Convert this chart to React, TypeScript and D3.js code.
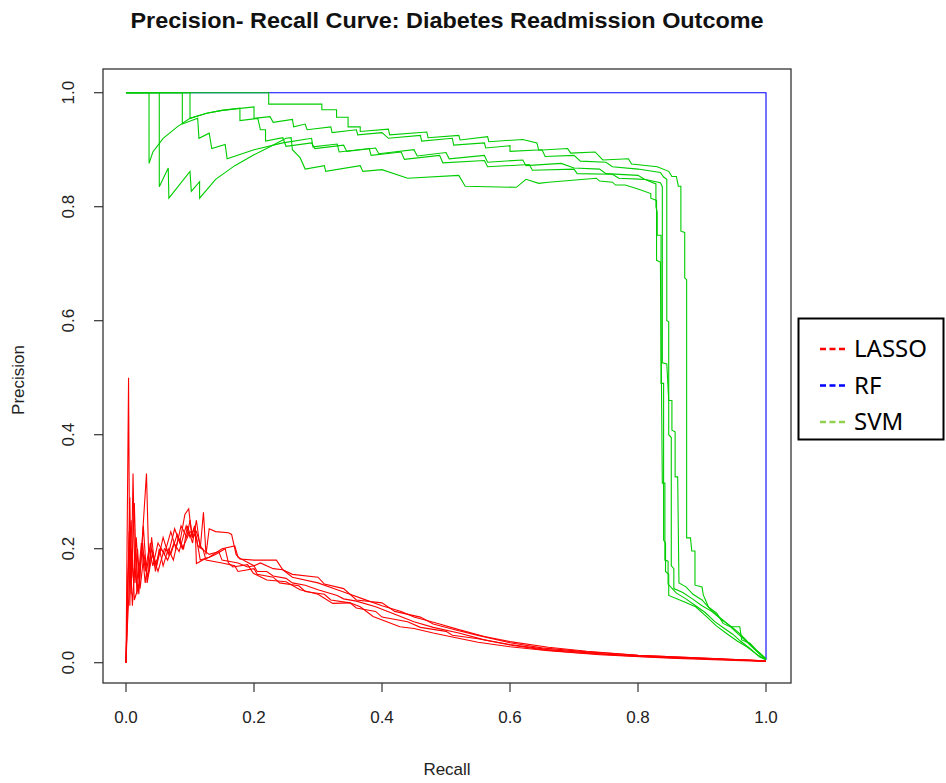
import { useEffect } from 'react'
import * as d3 from 'd3'

// precision-recall points [recall, precision]
const LASSO_1 = [
  [0, 0], [0.004, 0.5], [0.006, 0.1], [0.008, 0.2], [0.012, 0.14], [0.016, 0.22], [0.02, 0.15], [0.026, 0.21],
  [0.03, 0.16], [0.036, 0.2], [0.042, 0.17], [0.05, 0.21], [0.06, 0.19], [0.07, 0.23], [0.078, 0.2], [0.086, 0.24],
  [0.095, 0.22], [0.1, 0.25], [0.104, 0.22], [0.11, 0.23], [0.118, 0.2], [0.13, 0.19], [0.145, 0.195], [0.15, 0.18],
  [0.175, 0.175], [0.19, 0.168], [0.2, 0.17], [0.205, 0.16], [0.22, 0.16], [0.23, 0.152], [0.25, 0.148], [0.26, 0.14],
  [0.28, 0.136], [0.3, 0.128], [0.33, 0.118], [0.34, 0.112], [0.36, 0.108], [0.39, 0.098], [0.42, 0.085], [0.45, 0.072],
  [0.48, 0.062], [0.52, 0.052], [0.56, 0.04], [0.6, 0.031], [0.65, 0.023], [0.7, 0.018], [0.8, 0.011], [0.9, 0.007], [1, 0.003],
]
const LASSO_2 = [
  [0, 0], [0.002, 0.09], [0.006, 0.29], [0.008, 0.12], [0.011, 0.332], [0.014, 0.14], [0.018, 0.2], [0.022, 0.13],
  [0.028, 0.19], [0.034, 0.15], [0.04, 0.2], [0.048, 0.17], [0.058, 0.22], [0.066, 0.19], [0.076, 0.235], [0.084, 0.21],
  [0.092, 0.26], [0.098, 0.27], [0.103, 0.22], [0.107, 0.24], [0.112, 0.205], [0.12, 0.2], [0.125, 0.18], [0.15, 0.175],
  [0.17, 0.17], [0.175, 0.16], [0.2, 0.165], [0.205, 0.155], [0.23, 0.15], [0.24, 0.14], [0.27, 0.135], [0.28, 0.125],
  [0.31, 0.12], [0.32, 0.11], [0.35, 0.105], [0.36, 0.096], [0.39, 0.09], [0.4, 0.08], [0.44, 0.072], [0.46, 0.062],
  [0.5, 0.055], [0.51, 0.048], [0.55, 0.042], [0.6, 0.032], [0.66, 0.023], [0.75, 0.015], [0.85, 0.009], [1, 0.003],
]
const LASSO_3 = [
  [0, 0], [0.003, 0.15], [0.008, 0.25], [0.013, 0.11], [0.021, 0.139], [0.032, 0.332], [0.036, 0.16], [0.04, 0.22],
  [0.046, 0.16], [0.052, 0.2], [0.058, 0.17], [0.066, 0.2], [0.074, 0.18], [0.082, 0.22], [0.09, 0.2], [0.096, 0.24],
  [0.104, 0.21], [0.11, 0.25], [0.116, 0.2], [0.121, 0.264], [0.125, 0.19], [0.13, 0.235], [0.14, 0.23], [0.16, 0.228],
  [0.165, 0.225], [0.172, 0.19], [0.178, 0.182], [0.2, 0.18], [0.235, 0.18], [0.245, 0.163], [0.26, 0.155], [0.3, 0.15],
  [0.31, 0.138], [0.34, 0.13], [0.36, 0.11], [0.4, 0.105], [0.42, 0.09], [0.46, 0.08], [0.48, 0.068], [0.52, 0.056],
  [0.55, 0.048], [0.6, 0.035], [0.65, 0.026], [0.72, 0.019], [0.8, 0.013], [0.9, 0.008], [1, 0.003],
]
const LASSO_4 = [
  [0, 0], [0.005, 0.23], [0.009, 0.15], [0.013, 0.28], [0.017, 0.12], [0.024, 0.21], [0.03, 0.14], [0.038, 0.21],
  [0.045, 0.17], [0.055, 0.2], [0.065, 0.18], [0.075, 0.21], [0.083, 0.195], [0.094, 0.24], [0.1, 0.22], [0.108, 0.24],
  [0.11, 0.174], [0.12, 0.18], [0.14, 0.19], [0.155, 0.2], [0.16, 0.175], [0.167, 0.168], [0.19, 0.172], [0.199, 0.157],
  [0.22, 0.145], [0.25, 0.142], [0.272, 0.128], [0.3, 0.12], [0.323, 0.104], [0.35, 0.105], [0.366, 0.098], [0.386, 0.081],
  [0.428, 0.063], [0.45, 0.06], [0.48, 0.052], [0.506, 0.046], [0.55, 0.036], [0.6, 0.028], [0.66, 0.021], [0.74, 0.014],
  [0.85, 0.008], [1, 0.002],
]
const LASSO_5 = [
  [0, 0], [0.002, 0.06], [0.007, 0.18], [0.01, 0.1], [0.015, 0.2], [0.02, 0.12], [0.027, 0.24], [0.033, 0.14],
  [0.041, 0.19], [0.05, 0.16], [0.06, 0.2], [0.07, 0.19], [0.08, 0.225], [0.088, 0.2], [0.1, 0.23], [0.11, 0.22],
  [0.116, 0.18], [0.13, 0.185], [0.15, 0.2], [0.17, 0.205], [0.175, 0.185], [0.2, 0.17], [0.21, 0.175], [0.23, 0.165],
  [0.245, 0.163], [0.26, 0.15], [0.3, 0.14], [0.33, 0.128], [0.35, 0.12], [0.37, 0.112], [0.4, 0.1], [0.43, 0.09],
  [0.45, 0.08], [0.49, 0.068], [0.52, 0.058], [0.56, 0.046], [0.6, 0.037], [0.66, 0.027], [0.72, 0.02], [0.8, 0.013],
  [0.9, 0.008], [1, 0.003],
]

const RF_1 = [[0, 1], [1, 1], [1, 0.005]]

const SVM_1 = [
  [0, 1], [0.223, 1], [0.223, 0.98], [0.306, 0.98], [0.306, 0.97], [0.329, 0.97], [0.329, 0.957], [0.347, 0.957],
  [0.347, 0.94], [0.366, 0.94], [0.366, 0.932], [0.41, 0.936], [0.412, 0.926], [0.47, 0.931], [0.472, 0.921],
  [0.52, 0.925], [0.522, 0.917], [0.565, 0.923], [0.567, 0.914], [0.62, 0.918], [0.642, 0.912], [0.645, 0.899],
  [0.69, 0.902], [0.695, 0.894], [0.733, 0.896], [0.745, 0.882], [0.785, 0.884], [0.79, 0.875], [0.83, 0.87],
  [0.848, 0.862], [0.853, 0.853], [0.86, 0.853], [0.863, 0.836], [0.867, 0.836], [0.867, 0.757], [0.873, 0.755],
  [0.873, 0.675], [0.876, 0.672], [0.876, 0.219], [0.882, 0.219], [0.884, 0.196], [0.889, 0.196], [0.889, 0.136],
  [0.9, 0.133], [0.902, 0.119], [0.91, 0.098], [0.923, 0.087], [0.933, 0.069], [0.944, 0.063], [0.959, 0.063],
  [0.962, 0.04], [0.975, 0.034], [0.985, 0.022], [0.996, 0.011], [1, 0.006],
]
const SVM_2 = [
  [0, 1], [0.036, 1], [0.036, 0.876], [0.042, 0.896], [0.058, 0.92], [0.08, 0.94], [0.1, 0.955], [0.126, 0.964],
  [0.15, 0.969], [0.178, 0.973], [0.178, 0.951], [0.206, 0.955], [0.21, 0.935], [0.218, 0.935], [0.218, 0.915],
  [0.245, 0.921], [0.25, 0.906], [0.29, 0.912], [0.295, 0.902], [0.34, 0.908], [0.345, 0.897], [0.39, 0.903],
  [0.395, 0.893], [0.45, 0.9], [0.455, 0.889], [0.5, 0.895], [0.505, 0.884], [0.56, 0.89], [0.565, 0.878],
  [0.62, 0.882], [0.625, 0.872], [0.68, 0.876], [0.7, 0.868], [0.74, 0.866], [0.75, 0.858], [0.8, 0.855],
  [0.81, 0.848], [0.835, 0.842], [0.838, 0.835], [0.838, 0.526], [0.845, 0.524], [0.848, 0.46], [0.853, 0.46],
  [0.853, 0.408], [0.858, 0.405], [0.858, 0.326], [0.862, 0.326], [0.864, 0.14], [0.875, 0.133], [0.886, 0.12],
  [0.9, 0.11], [0.912, 0.095], [0.925, 0.082], [0.94, 0.068], [0.952, 0.055], [0.965, 0.042], [0.978, 0.028],
  [0.99, 0.015], [1, 0.006],
]
const SVM_3 = [
  [0, 1], [0.052, 1], [0.052, 0.835], [0.066, 0.868], [0.067, 0.815], [0.1, 0.862], [0.102, 0.827], [0.115, 0.844],
  [0.115, 0.815], [0.14, 0.848], [0.17, 0.872], [0.2, 0.891], [0.225, 0.905], [0.25, 0.92], [0.258, 0.921],
  [0.26, 0.9], [0.272, 0.886], [0.28, 0.866], [0.31, 0.872], [0.312, 0.862], [0.366, 0.872], [0.37, 0.862],
  [0.4, 0.865], [0.44, 0.85], [0.52, 0.855], [0.53, 0.836], [0.61, 0.834], [0.625, 0.848], [0.645, 0.841],
  [0.66, 0.843], [0.735, 0.85], [0.74, 0.845], [0.76, 0.843], [0.765, 0.838], [0.78, 0.838], [0.8, 0.831],
  [0.82, 0.823], [0.82, 0.815], [0.829, 0.811], [0.829, 0.706], [0.835, 0.703], [0.838, 0.315], [0.842, 0.315],
  [0.842, 0.18], [0.847, 0.178], [0.847, 0.138], [0.86, 0.122], [0.875, 0.112], [0.89, 0.1], [0.905, 0.088],
  [0.92, 0.072], [0.935, 0.06], [0.948, 0.05], [0.96, 0.038], [0.975, 0.025], [0.99, 0.01], [1, 0.005],
]
const SVM_4 = [
  [0, 1], [0.088, 1], [0.088, 0.945], [0.112, 0.955], [0.114, 0.92], [0.13, 0.929], [0.134, 0.902], [0.155, 0.909],
  [0.158, 0.884], [0.2, 0.9], [0.245, 0.912], [0.29, 0.92], [0.292, 0.905], [0.33, 0.91], [0.333, 0.896],
  [0.38, 0.902], [0.383, 0.89], [0.43, 0.896], [0.435, 0.883], [0.49, 0.89], [0.495, 0.877], [0.56, 0.881],
  [0.565, 0.87], [0.63, 0.874], [0.635, 0.864], [0.7, 0.866], [0.705, 0.858], [0.76, 0.857], [0.77, 0.85],
  [0.81, 0.848], [0.828, 0.84], [0.828, 0.8], [0.83, 0.79], [0.83, 0.75], [0.836, 0.75], [0.836, 0.49],
  [0.84, 0.49], [0.84, 0.215], [0.843, 0.21], [0.843, 0.16], [0.848, 0.155], [0.848, 0.118], [0.87, 0.108],
  [0.89, 0.098], [0.905, 0.083], [0.922, 0.065], [0.94, 0.05], [0.955, 0.038], [0.97, 0.028], [0.985, 0.015], [1, 0.005],
]
const SVM_5 = [
  [0, 1], [0.1, 1], [0.1, 0.955], [0.126, 0.964], [0.15, 0.969], [0.2, 0.975], [0.2, 0.955], [0.225, 0.958],
  [0.23, 0.948], [0.26, 0.953], [0.262, 0.94], [0.28, 0.945], [0.283, 0.935], [0.32, 0.94], [0.322, 0.93],
  [0.36, 0.935], [0.362, 0.926], [0.4, 0.93], [0.41, 0.92], [0.46, 0.925], [0.462, 0.915], [0.51, 0.92],
  [0.512, 0.908], [0.56, 0.912], [0.562, 0.903], [0.6, 0.907], [0.6, 0.897], [0.65, 0.9], [0.655, 0.888],
  [0.7, 0.89], [0.71, 0.88], [0.75, 0.878], [0.76, 0.87], [0.8, 0.866], [0.835, 0.86], [0.84, 0.852],
  [0.845, 0.848], [0.845, 0.6], [0.848, 0.598], [0.848, 0.4], [0.852, 0.395], [0.852, 0.17], [0.856, 0.165],
  [0.856, 0.13], [0.87, 0.123], [0.885, 0.112], [0.9, 0.1], [0.915, 0.09], [0.93, 0.076], [0.945, 0.064],
  [0.96, 0.05], [0.972, 0.036], [0.985, 0.022], [1, 0.007],
]

const LASSO = [LASSO_1, LASSO_2, LASSO_3, LASSO_4, LASSO_5]
const RF = [RF_1]
const SVM = [SVM_1, SVM_2, SVM_3, SVM_4, SVM_5]

const TICKS = [0, 0.2, 0.4, 0.6, 0.8, 1.0]
const LEGEND = [
  { label: 'LASSO', color: '#ff0000' },
  { label: 'RF', color: '#0000ff' },
  { label: 'SVM', color: '#92d050' },
]

const W = 946
const H = 783
const box = { left: 103, right: 791, top: 69, bottom: 683 }

export default function App() {
  useEffect(() => {
    document.body.style.margin = '0'
  }, [])

  const x = d3.scaleLinear().domain([0, 1]).range([126, 766])
  const y = d3.scaleLinear().domain([0, 1]).range([662.7, 92.7])
  const line = d3.line<number[]>().x((d) => x(d[0])).y((d) => y(d[1]))

  const font = '"Liberation Sans", Arial, Helvetica, sans-serif'

  const curves = (set: number[][][], color: string, key: string) =>
    set.map((c, i) => (
      <path key={key + i} d={line(c) || ''} fill="none" stroke={color} strokeWidth={1.1} strokeLinejoin="miter" />
    ))

  return (
    <svg width={W} height={H} style={{ display: 'block', background: '#fff' }} fontFamily={font}>
      <text x={447} y={28} textAnchor="middle" fontWeight="bold" fontSize={22} fill="#111"
        textLength={633} lengthAdjust="spacingAndGlyphs">
        Precision- Recall Curve: Diabetes Readmission Outcome
      </text>

      {curves(LASSO, '#ff0000', 'l')}
      {curves(RF, '#0000ff', 'r')}
      {curves(SVM, '#00cd00', 's')}

      <rect x={box.left} y={box.top} width={box.right - box.left} height={box.bottom - box.top}
        fill="none" stroke="#333" strokeWidth={1.3} />

      {/* x axis */}
      {TICKS.map((t) => (
        <g key={'x' + t}>
          <line x1={x(t)} x2={x(t)} y1={box.bottom} y2={box.bottom + 9} stroke="#333" strokeWidth={1.2} />
          <text x={x(t)} y={723} textAnchor="middle" fontSize={17} fill="#222">{d3.format('.1f')(t)}</text>
        </g>
      ))}
      {/* y axis */}
      {TICKS.map((t) => (
        <g key={'y' + t}>
          <line x1={box.left} x2={box.left - 9} y1={y(t)} y2={y(t)} stroke="#333" strokeWidth={1.2} />
          <text transform={`translate(74,${y(t)}) rotate(-90)`} textAnchor="middle" fontSize={17} fill="#222">
            {d3.format('.1f')(t)}
          </text>
        </g>
      ))}

      <text x={447} y={775} textAnchor="middle" fontSize={17} fill="#222">Recall</text>
      <text transform="translate(24,380) rotate(-90)" textAnchor="middle" fontSize={17} fill="#222">Precision</text>

      {/* legend */}
      <rect x={798.5} y={318.5} width={145} height={121} fill="#fff" stroke="#000" strokeWidth={2} />
      {LEGEND.map((d, i) => (
        <g key={d.label}>
          <line x1={820} x2={845} y1={349 + i * 36.5} y2={349 + i * 36.5} stroke={d.color}
            strokeWidth={2.5} strokeDasharray="6,3.5" />
          <text x={854} y={357 + i * 36.5} fontSize={24} fill="#000" fontFamily='"Noto Sans", "Open Sans", sans-serif'>
            {d.label}
          </text>
        </g>
      ))}
    </svg>
  )
}
